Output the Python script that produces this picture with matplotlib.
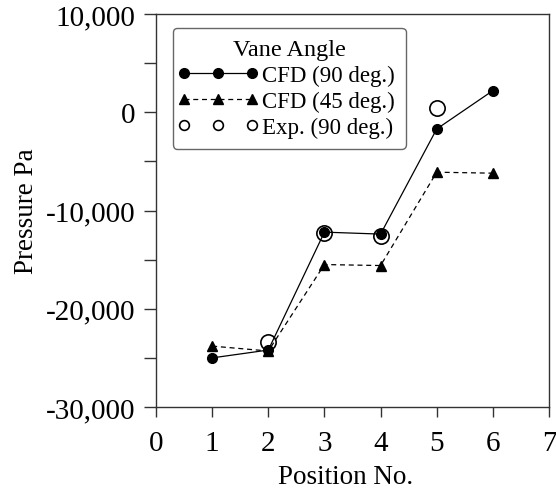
import matplotlib.pyplot as plt
from matplotlib.ticker import MultipleLocator, FuncFormatter
from matplotlib.legend_handler import HandlerLine2D

plt.rcParams['font.family'] = 'Liberation Serif'
plt.rcParams['axes.unicode_minus'] = False

# Datos
posiciones = [1, 2, 3, 4, 5, 6]
cfd_90 = [-25000, -24200, -12200, -12400, -1700, 2200]
cfd_45 = [-23800, -24300, -15500, -15600, -6100, -6200]
exp_pos = [2, 3, 4, 5]
exp_90 = [-23400, -12300, -12600, 400]

fig = plt.figure(figsize=(5.56, 4.89), dpi=100)
ax = fig.add_axes([0.2806, 0.1656, 0.7068, 0.8037])

ax.plot(posiciones, cfd_90, '-', color='black', lw=0.9, marker='o', ms=7,
        label='CFD (90 deg.)', zorder=3)
ax.plot(posiciones, cfd_45, '--', color='black', lw=0.9, marker='^', ms=7,
        dashes=(4, 3), label='CFD (45 deg.)', zorder=2)
ax.plot(exp_pos, exp_90, 'o', color='black', mfc='none', mew=1.2, ms=11,
        label='Exp. (90 deg.)', zorder=4)

ax.set_xlim(0, 7)
ax.set_ylim(-30000, 10000)
ax.xaxis.set_major_locator(MultipleLocator(1))
ax.yaxis.set_major_locator(MultipleLocator(10000))
ax.yaxis.set_minor_locator(MultipleLocator(5000))
ax.yaxis.set_major_formatter(FuncFormatter(lambda v, p: f'{int(v):,}'))
ax.tick_params(which='both', direction='out', width=1, labelsize=21,
               color='#333333')
ax.tick_params(axis='y', which='both', length=9, pad=6)
ax.tick_params(axis='x', length=7.5, pad=9)
for s in ax.spines.values():
    s.set_linewidth(1)
    s.set_color('#333333')

ax.set_xlabel('Position No.', fontsize=19.5)
ax.xaxis.set_label_coords(0.483, -0.146, transform=ax.transAxes)
ax.xaxis.label.set_va('top')
ax.set_ylabel('Pressure Pa', fontsize=19.5, labelpad=5)

leg = ax.legend(title='Vane Angle', loc='upper left', bbox_to_anchor=(0.043, 0.965),
                borderaxespad=0, numpoints=3, fontsize=16.5, title_fontsize=17.5,
                handlelength=2.97, handletextpad=0.4, labelspacing=0.2,
                borderpad=0.5, fancybox=True, framealpha=1,
                handler_map={plt.Line2D: HandlerLine2D(marker_pad=0)})
leg.get_frame().set_edgecolor('#666666')
leg.get_frame().set_linewidth(1)
for h in leg.legend_handles:
    h.set_markersize(7)

fig.savefig('out.png', dpi=100)
